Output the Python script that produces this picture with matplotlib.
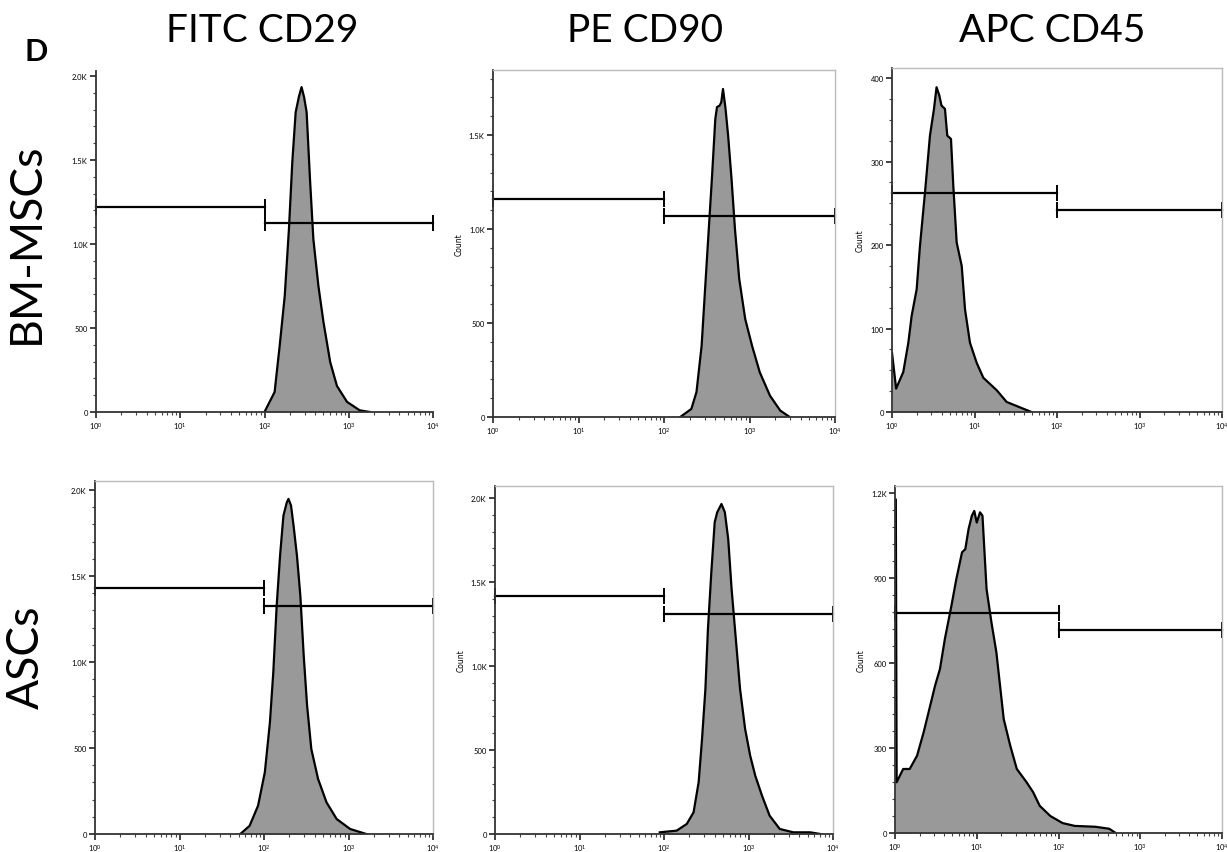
import numpy as np
import matplotlib
matplotlib.use("Agg")
import matplotlib.pyplot as plt
from matplotlib.ticker import FixedLocator, FuncFormatter, LogLocator, NullFormatter

plt.rcParams['font.family'] = ['Lato', 'DejaVu Sans']

# histogram outlines: log10(fluorescence) and count
cd29_bm_x = [2.0, 2.12, 2.18, 2.24, 2.29, 2.33, 2.37, 2.41, 2.44, 2.47, 2.50, 2.54, 2.58, 2.64, 2.70, 2.78, 2.86, 2.98, 3.13, 3.25]
cd29_bm_y = [0, 119, 393, 690, 1089, 1488, 1785, 1880, 1934, 1874, 1785, 1386, 1029, 750, 535, 297, 155, 60, 10, 0]

cd90_bm_x = [2.19, 2.32, 2.38, 2.44, 2.50, 2.56, 2.60, 2.62, 2.65, 2.67, 2.69, 2.72, 2.75, 2.79, 2.83, 2.88, 2.95, 3.03, 3.12, 3.24, 3.36, 3.47]
cd90_bm_y = [0, 43, 133, 379, 825, 1266, 1585, 1649, 1656, 1674, 1745, 1639, 1497, 1266, 1000, 734, 521, 379, 238, 113, 34, 0]

cd45_bm_x = [0.0, 0.05, 0.137, 0.198, 0.238, 0.299, 0.339, 0.40, 0.46, 0.509, 0.54, 0.574, 0.60, 0.642, 0.67, 0.715, 0.743,
             0.784, 0.845, 0.885, 0.945, 1.026, 1.107, 1.27, 1.39, 1.59, 1.69]
cd45_bm_y = [71, 28, 48, 83, 115, 147, 199, 263, 331, 363, 389, 379, 367, 363, 331, 327, 271,
             203, 175, 123, 83, 59, 41, 26, 12, 4, 0]

cd29_as_x = [1.72, 1.83, 1.93, 2.01, 2.07, 2.11, 2.15, 2.19, 2.23, 2.27, 2.29, 2.32, 2.35, 2.39, 2.43, 2.47, 2.51, 2.56, 2.64, 2.74, 2.86, 3.02, 3.21]
cd29_as_y = [0, 48, 165, 359, 649, 940, 1327, 1618, 1851, 1928, 1948, 1909, 1792, 1618, 1386, 1037, 746, 494, 320, 184, 87, 29, 0]

cd90_as_x = [1.95, 2.15, 2.27, 2.35, 2.41, 2.45, 2.49, 2.52, 2.56, 2.60, 2.63, 2.68, 2.72, 2.76, 2.80, 2.84, 2.90, 2.96, 3.02,
             3.08, 3.16, 3.25, 3.37, 3.53, 3.73, 3.85]
cd90_as_y = [10, 20, 60, 129, 308, 565, 863, 1220, 1557, 1855, 1915, 1964, 1915, 1756, 1458, 1220, 863, 625, 466,
             347, 228, 109, 30, 10, 10, 0]

cd45_as_x = [0.0, 0.01, 0.02, 0.10, 0.18, 0.27, 0.35, 0.43, 0.49, 0.55, 0.61, 0.69, 0.75, 0.82, 0.86, 0.90, 0.94, 0.97, 1.00,
             1.04, 1.07, 1.12, 1.18, 1.24, 1.33, 1.41, 1.49, 1.61, 1.69, 1.77, 1.90, 2.05, 2.20, 2.45, 2.62, 2.70]
cd45_as_y = [1178, 1178, 179, 226, 226, 273, 355, 449, 520, 579, 685, 802, 896, 991, 1002, 1073, 1120, 1137, 1096,
             1132, 1120, 861, 743, 638, 402, 308, 226, 179, 144, 96, 60, 35, 25, 22, 15, 0]

# gates: (count of left gate, count of right gate), split at 10^2
gates_left = [1222, 1160, 262, 1430, 1418, 776]
gates_right = [1123, 1071, 242, 1327, 1309, 716]

col_titles = ["FITC CD29", "PE CD90", "APC CD45"]
row_titles = ["BM-MSCs", "ASCs"]

ymax = [2030, 1846, 412, 2052, 2071, 1225]
ymajor = [[0, 500, 1000, 1500, 2000], [0, 500, 1000, 1500], [0, 100, 200, 300, 400],
          [0, 500, 1000, 1500, 2000], [0, 500, 1000, 1500, 2000], [0, 300, 600, 900, 1200]]
yminor_step = [100, 100, 25, 100, 100, 60]

# pixel boxes (left, top, right, bottom)
boxes = [(96, 72, 433, 413), (493, 71, 835, 418), (892, 69, 1222, 413),
         (95, 482, 433, 835), (495, 487, 833, 835), (895, 487, 1222, 834)]

W, H = 1227, 853
fig = plt.figure(figsize=(W / 100, H / 100), dpi=100)

data = [(cd29_bm_x, cd29_bm_y), (cd90_bm_x, cd90_bm_y), (cd45_bm_x, cd45_bm_y),
        (cd29_as_x, cd29_as_y), (cd90_as_x, cd90_as_y), (cd45_as_x, cd45_as_y)]


def kfmt(v, pos):
    if v == 0:
        return "0"
    if v >= 1000:
        return "%.1fK" % (v / 1000)
    return "%d" % v


for i, (l, t, r, b) in enumerate(boxes):
    ax = fig.add_axes([l / W, 1 - b / H, (r - l) / W, (b - t) / H])
    lx, cy = data[i]
    xs = 10 ** np.array(lx)
    ax.fill_between(xs, cy, 0, color="#999999", lw=0)
    ax.plot(xs, cy, color="black", lw=1.6)
    ax.set_xscale("log")
    ax.set_xlim(1, 1e4)
    ax.set_ylim(0, ymax[i])

    # gates
    gl, gr = gates_left[i], gates_right[i]
    ax.plot([1, 100], [gl, gl], color="black", lw=1.6, clip_on=False)
    ax.plot([100, 1e4], [gr, gr], color="black", lw=1.6, clip_on=False)
    for xg, yg in [(1, gl), (100, gl), (100, gr), (1e4, gr)]:
        ax.plot([xg], [yg], marker="|", ms=11, mew=1.4, color="black", clip_on=False)

    ax.xaxis.set_major_locator(LogLocator(base=10, numticks=10))
    ax.xaxis.set_minor_locator(LogLocator(base=10, subs=np.arange(2, 10), numticks=20))
    ax.xaxis.set_minor_formatter(NullFormatter())
    ax.yaxis.set_major_locator(FixedLocator(ymajor[i]))
    ax.yaxis.set_minor_locator(FixedLocator(np.arange(0, ymax[i], yminor_step[i])))
    ax.yaxis.set_major_formatter(FuncFormatter(kfmt))
    ax.tick_params(axis="both", which="major", length=4, width=1.2, labelsize=5.5, pad=2, color="#222222")
    ax.tick_params(axis="both", which="minor", length=2, width=0.8, color="#444444")

    for s in ["left", "bottom"]:
        ax.spines[s].set_color("#333333")
        ax.spines[s].set_linewidth(1.3)
    for s in ["top", "right"]:
        ax.spines[s].set_color("#bbbbbb")
        ax.spines[s].set_linewidth(1.0)
    if i == 0:
        ax.spines["top"].set_visible(False)
        ax.spines["right"].set_visible(False)

    if i % 3 != 0:
        ax.set_ylabel("Count", fontsize=5.5, labelpad=4, family="DejaVu Sans")

# column and row titles
col_x = [262, 645, 1052]
for x, s in zip(col_x, col_titles):
    fig.text(x / W, 1 - 31 / H, s, fontsize=28, ha="center", va="center")
fig.text(26 / W, 1 - 243 / H, row_titles[0], fontsize=32, rotation=90, ha="center", va="center")
fig.text(26 / W, 1 - 657 / H, row_titles[1], fontsize=32, rotation=90, ha="center", va="center")
fig.text(36 / W, 1 - 52 / H, "D", fontsize=22, fontweight="bold", ha="center", va="center")

fig.savefig("out.png", dpi=100)
